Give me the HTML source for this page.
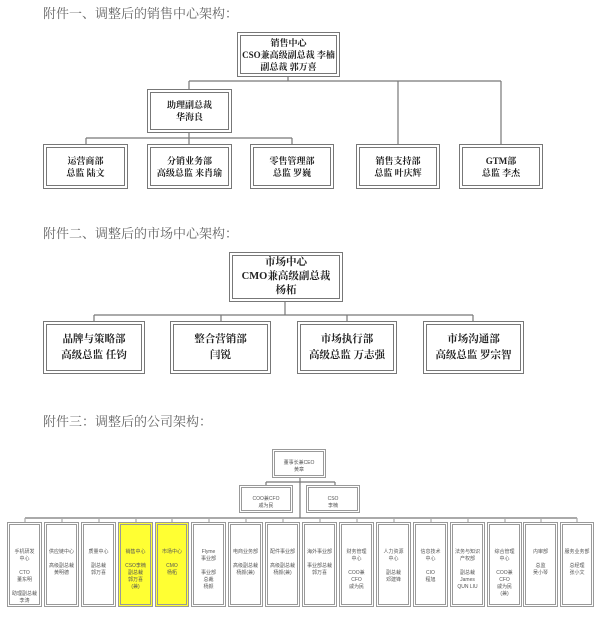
<!DOCTYPE html>
<html><head><meta charset="utf-8"><style>
body{margin:0;width:600px;height:634px;background:#fff;position:relative;overflow:hidden;font-family:"Liberation Serif","Noto Serif CJK SC",serif;}
.t{position:absolute;left:43px;font-size:13px;line-height:16px;color:#666;font-family:"Liberation Serif","Noto Serif CJK SC",serif;white-space:nowrap;}
.b{position:absolute;box-sizing:border-box;border:4px double #777;background:#fff;display:flex;align-items:center;justify-content:center;text-align:center;font-size:9px;line-height:12px;color:#222;white-space:nowrap;font-weight:bold;}
.b2{font-size:10.5px;line-height:16px;}
.s{position:absolute;box-sizing:border-box;border:3px double #999;background:#fff;text-align:center;font-size:5px;line-height:7px;color:#555;padding-top:24px;white-space:nowrap;overflow:hidden;font-family:"Liberation Sans","Noto Sans CJK SC",sans-serif;}
.y{background:#ffff33;}
svg{position:absolute;left:0;top:0}
</style></head><body>
<svg width="600" height="634" stroke="#777" stroke-width="1.2" fill="none">
<path d="M288 77V81M189 81H501M189 81V89M398 81V144M501 81V144M189 133V138M86 138H292M86 138V144M189 138V144M292 138V144"/>
<path d="M285 302V315M94 315H473M94 315V321M221 315V321M347 315V321M473 315V321"/>
<path d="M300 478V518M266 482H335M266 482V485M335 482V485M25 518H577"/>
<path stroke="#aaa" d="M25 518V522M62 518V522M99 518V522M136 518V522M172 518V522M209 518V522M246 518V522M283 518V522M320 518V522M357 518V522M394 518V522M431 518V522M468 518V522M505 518V522M541 518V522M577 518V522"/>
</svg>
<div class="t" style="top:6px">附件一、调整后的销售中心架构：</div>
<div class="b" style="left:237px;top:32px;width:103px;height:45px">销售中心<br>CSO兼高级副总裁 李楠<br>副总裁 郭万喜</div>
<div class="b" style="left:147px;top:89px;width:85px;height:44px">助理副总裁<br>华海良</div>
<div class="b" style="left:43px;top:144px;width:85px;height:45px">运营商部<br>总监 陆文</div>
<div class="b" style="left:147px;top:144px;width:85px;height:45px">分销业务部<br>高级总监 来肖瑜</div>
<div class="b" style="left:250px;top:144px;width:84px;height:45px">零售管理部<br>总监 罗巍</div>
<div class="b" style="left:356px;top:144px;width:84px;height:45px">销售支持部<br>总监 叶庆辉</div>
<div class="b" style="left:459px;top:144px;width:84px;height:45px">GTM部<br>总监 李杰</div>

<div class="t" style="top:226px">附件二、调整后的市场中心架构：</div>
<div class="b b2" style="left:229px;top:252px;width:114px;height:50px;line-height:14px">市场中心<br>CMO兼高级副总裁<br>杨柘</div>
<div class="b b2" style="left:43px;top:321px;width:102px;height:53px">品牌与策略部<br>高级总监 任钧</div>
<div class="b b2" style="left:170px;top:321px;width:101px;height:53px">整合营销部<br>闫锐</div>
<div class="b b2" style="left:297px;top:321px;width:100px;height:53px">市场执行部<br>高级总监 万志强</div>
<div class="b b2" style="left:423px;top:321px;width:101px;height:53px">市场沟通部<br>高级总监 罗宗智</div>

<div class="t" style="top:414px">附件三：调整后的公司架构：</div>
<div class="s" style="left:272px;top:449px;width:54px;height:29px;padding-top:8px">董事长兼CEO<br>黄章</div>
<div class="s" style="left:239px;top:485px;width:54px;height:28px;padding-top:8px">COO兼CFO<br>戚为民</div>
<div class="s" style="left:306px;top:485px;width:54px;height:28px;padding-top:8px">CSO<br>李楠</div>
<div class="s" style="left:7px;top:522px;width:35px;height:85px">手机研发<br>中心<br><br>CTO<br>董东明<br><br>助理副总裁<br>李涛</div>
<div class="s" style="left:44px;top:522px;width:35px;height:85px">供应链中心<br><br>高级副总裁<br>黄明德</div>
<div class="s" style="left:81px;top:522px;width:35px;height:85px">质量中心<br><br>副总裁<br>郭万喜</div>
<div class="s y" style="left:118px;top:522px;width:35px;height:85px">销售中心<br><br>CSO李楠<br>副总裁<br>郭万喜<br>(兼)</div>
<div class="s y" style="left:155px;top:522px;width:34px;height:85px">市场中心<br><br>CMO<br>杨柘</div>
<div class="s" style="left:191px;top:522px;width:35px;height:85px">Flyme<br>事业部<br><br>事业部<br>总裁<br>杨颜</div>
<div class="s" style="left:228px;top:522px;width:35px;height:85px">电商业务部<br><br>高级副总裁<br>杨颜(兼)</div>
<div class="s" style="left:265px;top:522px;width:35px;height:85px">配件事业部<br><br>高级副总裁<br>杨颜(兼)</div>
<div class="s" style="left:302px;top:522px;width:35px;height:85px">海外事业部<br><br>事业部总裁<br>郭万喜</div>
<div class="s" style="left:339px;top:522px;width:35px;height:85px">财务管理<br>中心<br><br>COO兼<br>CFO<br>戚为民</div>
<div class="s" style="left:376px;top:522px;width:35px;height:85px">人力资源<br>中心<br><br>副总裁<br>邓建锋</div>
<div class="s" style="left:413px;top:522px;width:35px;height:85px">信息技术<br>中心<br><br>CIO<br>程旭</div>
<div class="s" style="left:450px;top:522px;width:35px;height:85px">法务与知识<br>产权部<br><br>副总裁<br>James<br>QUN LIU</div>
<div class="s" style="left:487px;top:522px;width:35px;height:85px">综合管理<br>中心<br><br>COO兼<br>CFO<br>戚为民<br>(兼)</div>
<div class="s" style="left:523px;top:522px;width:35px;height:85px">内审部<br><br>总监<br>吴小琴</div>
<div class="s" style="left:560px;top:522px;width:34px;height:85px">服务业务部<br><br>总经理<br>张小文</div>
</body></html>
